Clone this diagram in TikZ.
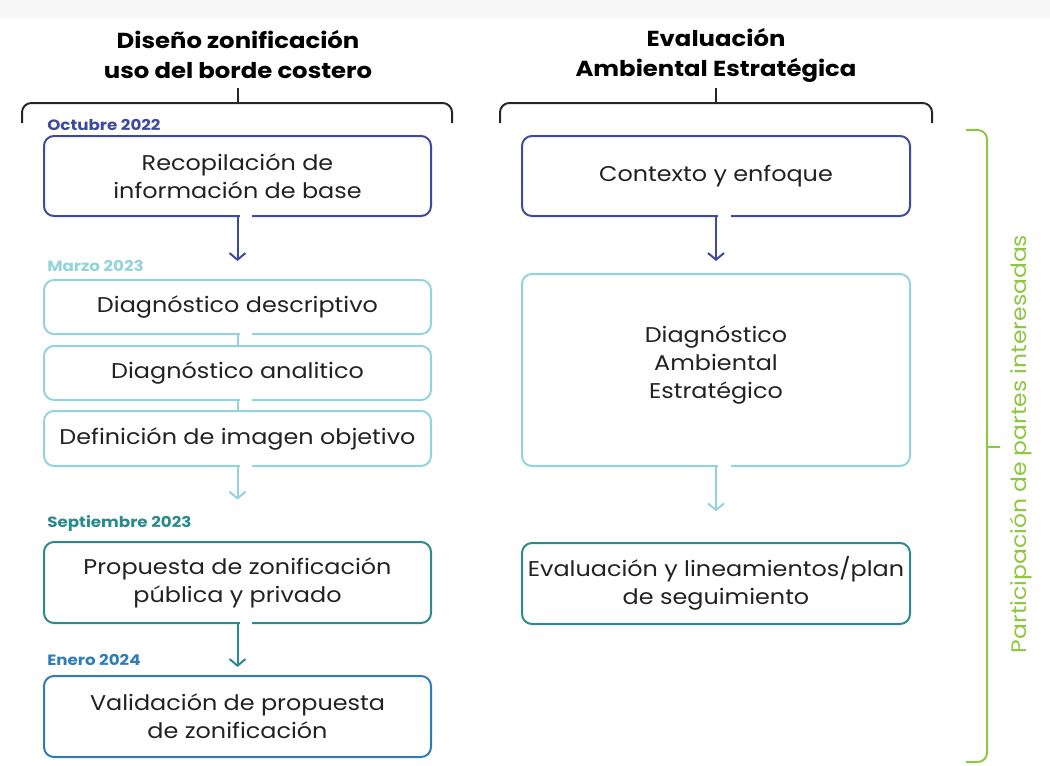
\documentclass[tikz,border=0pt]{standalone}
\usepackage{fontspec}
\setmainfont{Poppins}[FakeStretch=1.12]
\usetikzlibrary{arrows.meta}
\definecolor{indigoc}{HTML}{3D4A9E}
\definecolor{cyanc}{HTML}{92D3DC}
\definecolor{tealc}{HTML}{2A8A8E}
\definecolor{bluec}{HTML}{2F7DB8}
\definecolor{greenc}{HTML}{8DC63F}
\definecolor{textc}{HTML}{222222}
\definecolor{topgray}{HTML}{F7F7F7}
\begin{document}
\begin{tikzpicture}[x=0.75pt,y=-0.75pt,
  box/.style={draw, line width=1.5pt, rounded corners=7.5pt, minimum width=290.25pt,
    align=center, inner sep=0pt, text=textc, font=\fontsize{16}{21}\selectfont},
  title/.style={align=center, text=black, font=\bfseries\fontsize{16.3}{22.5}\selectfont},
  datelabel/.style={anchor=west, inner sep=0pt, font=\bfseries\fontsize{11.2}{13}\selectfont},
  brace/.style={draw=black!85, line width=1.5pt, rounded corners=7pt},
  arr/.style={line width=1.5pt, -{Straight Barb[length=5pt,width=12pt,line width=1.5pt]}},
  link/.style={line width=1.5pt},
  gap/.style={draw=white, line width=2.6pt}
]
\useasboundingbox (0,0) rectangle (1050,765);
\fill[topgray] (0,0) rectangle (1050,18);

% titles
\node[title] (t1) at (238,55) {Diseño zonificación\\uso del borde costero};
\node[title] (t2) at (716,55) {Evaluación\\Ambiental Estratégica};

% braces
\draw[brace] (22,123) |- (452,103) -- (452,123);
\draw[brace] (238,103) -- (238,88);
\draw[brace] (500,123) |- (932,103) -- (932,123);
\draw[brace] (716,103) -- (716,88);

% date labels
\node[datelabel, text=indigoc] (l1) at (47,125) {Octubre 2022};
\node[datelabel, text=cyanc] (l2) at (47,266) {Marzo 2023};
\node[datelabel, text=tealc] (l3) at (47,523) {Septiembre 2023};
\node[datelabel, text=bluec] (l4) at (47,660) {Enero 2024};

% left column
\node[box, draw=indigoc, minimum height=60pt] (b1) at (237.5,176) {Recopilación de\\información de base};
\node[box, draw=cyanc, minimum height=40.5pt] (d1) at (237.5,307) {Diagnóstico descriptivo};
\node[box, draw=cyanc, minimum height=40.5pt] (d2) at (237.5,373) {Diagnóstico analitico};
\node[box, draw=cyanc, minimum height=41.25pt] (d3) at (237.5,438.5) {Definición de imagen objetivo};
\node[box, draw=tealc, minimum height=60.75pt] (p1) at (237.5,582.5) {Propuesta de zonificación\\pública y privado};
\node[box, draw=bluec, minimum height=60.75pt] (v1) at (237.5,716.5) {Validación de propuesta\\de zonificación};

% right column
\node[box, draw=indigoc, minimum height=60pt, minimum width=291pt] (c1) at (716,176) {Contexto y enfoque};
\node[box, draw=cyanc, minimum height=144pt, minimum width=291pt] (a1) at (716,370) {Diagnóstico\\Ambiental\\Estratégico\rule[-12pt]{0pt}{12pt}};
\node[box, draw=tealc, minimum height=60.75pt, minimum width=291pt] (e1) at (716,583.5) {Evaluación y lineamientos/plan\\de seguimiento};

% gaps in bottom borders
\foreach \n in {b1,d1,d2,d3,p1,c1,a1}
  \draw[gap] ([xshift=1.6pt]\n.south) -- ([xshift=11pt]\n.south);

% connectors
\draw[arr, draw=indigoc, shorten >=13.5pt] (b1.south) -- (d1.north);
\draw[link, draw=cyanc] (d1.south) -- (d2.north);
\draw[link, draw=cyanc] (d2.south) -- (d3.north);
\draw[arr, draw=cyanc, shorten >=31pt] (d3.south) -- (p1.north);
\draw[arr, draw=tealc, shorten >=6pt] (p1.south) -- (v1.north);
\draw[arr, draw=indigoc, shorten >=9pt] (c1.south) -- (a1.north);
\draw[arr, draw=cyanc, shorten >=23pt] (a1.south) -- (e1.north);

% participation brace
\draw[draw=greenc, line width=1.5pt, rounded corners=7pt] (966,130) -| (987,762) -- (966,762);
\draw[draw=greenc, line width=1.5pt] (987,447) -- (1000,447);
\node[rotate=90, text=greenc, font=\fontsize{15.7}{18}\selectfont] (pp) at (1021,444) {Participación de partes interesadas};
\end{tikzpicture}
\end{document}
